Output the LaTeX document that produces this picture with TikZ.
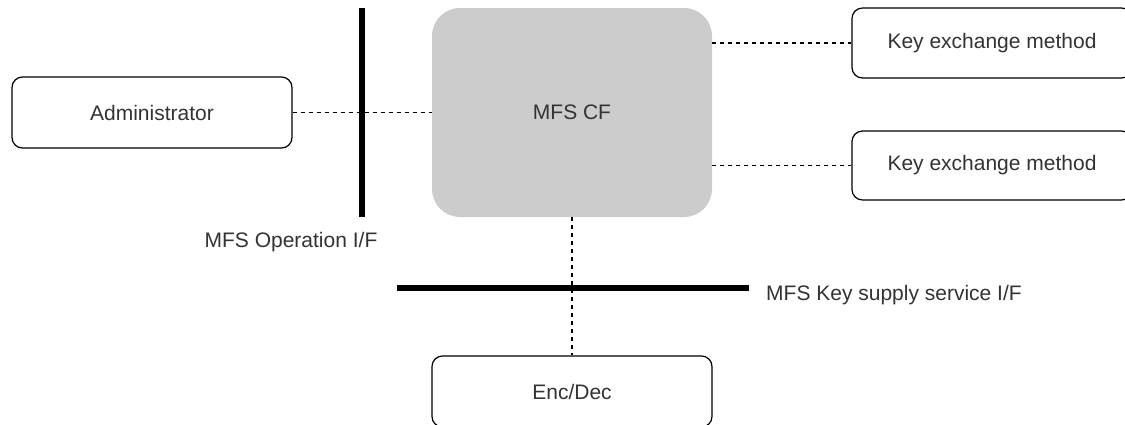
\documentclass[tikz,border=0pt]{standalone}
\usepackage{fontspec}
\setmainfont{Liberation Sans}
\definecolor{cfgray}{HTML}{CCCCCC}
\definecolor{txt}{HTML}{333333}
\begin{document}
\begin{tikzpicture}[x=1pt, y=-1pt,
  every node/.style={font=\fontsize{21}{25}\selectfont, text=txt},
  block/.style={draw=black, line width=1.2pt, fill=white, rounded corners=10.5pt,
                minimum width=280pt, inner sep=0pt},
  core/.style={fill=cfgray, draw=none, rounded corners=28pt,
               minimum width=280pt, minimum height=209pt, inner sep=0pt},
  link/.style={draw=black, line width=1.2pt, dash pattern=on 4pt off 4pt},
  ifbar/.style={draw=black, line width=6pt},
  iflabel/.style={inner sep=0pt}]
  \clip (0,0) rectangle (1125,424);
  \fill[white] (0,0) rectangle (1125,424);

  % components
  \node[block, minimum height=71pt] (admin) at (152,112.5) {Administrator};
  \node[core] (cf) at (572,112.5) {MFS CF};
  \node[block, minimum height=70pt] (key1) at (992,43) {Key exchange method};
  \node[block, minimum height=69pt] (key2) at (992,165.5) {Key exchange method};
  \node[block, minimum height=71pt] (enc) at (572,391.5) {Enc/Dec};

  % interface bars
  \coordinate (opTop) at (362,8);
  \coordinate (opBot) at (362,217);
  \coordinate (ksL) at (397,288);
  \coordinate (ksR) at (749,288);

  % dashed links
  \draw[link] (admin.east) -- (cf.west);
  \draw[link] (key1.west -| cf.east) -- (key1.west);
  \draw[link] (key2.west -| cf.east) -- (key2.west);
  \draw[link] (cf.south) -- (enc.north);

  \draw[ifbar] (opTop) -- (opBot);
  \draw[ifbar] (ksL) -- (ksR);

  % interface labels
  \node[iflabel] (opLabel) at (291,242) {MFS Operation I/F};
  \node[iflabel, anchor=west] (ksLabel) at (766,295) {MFS Key supply service I/F};
\end{tikzpicture}
\end{document}
